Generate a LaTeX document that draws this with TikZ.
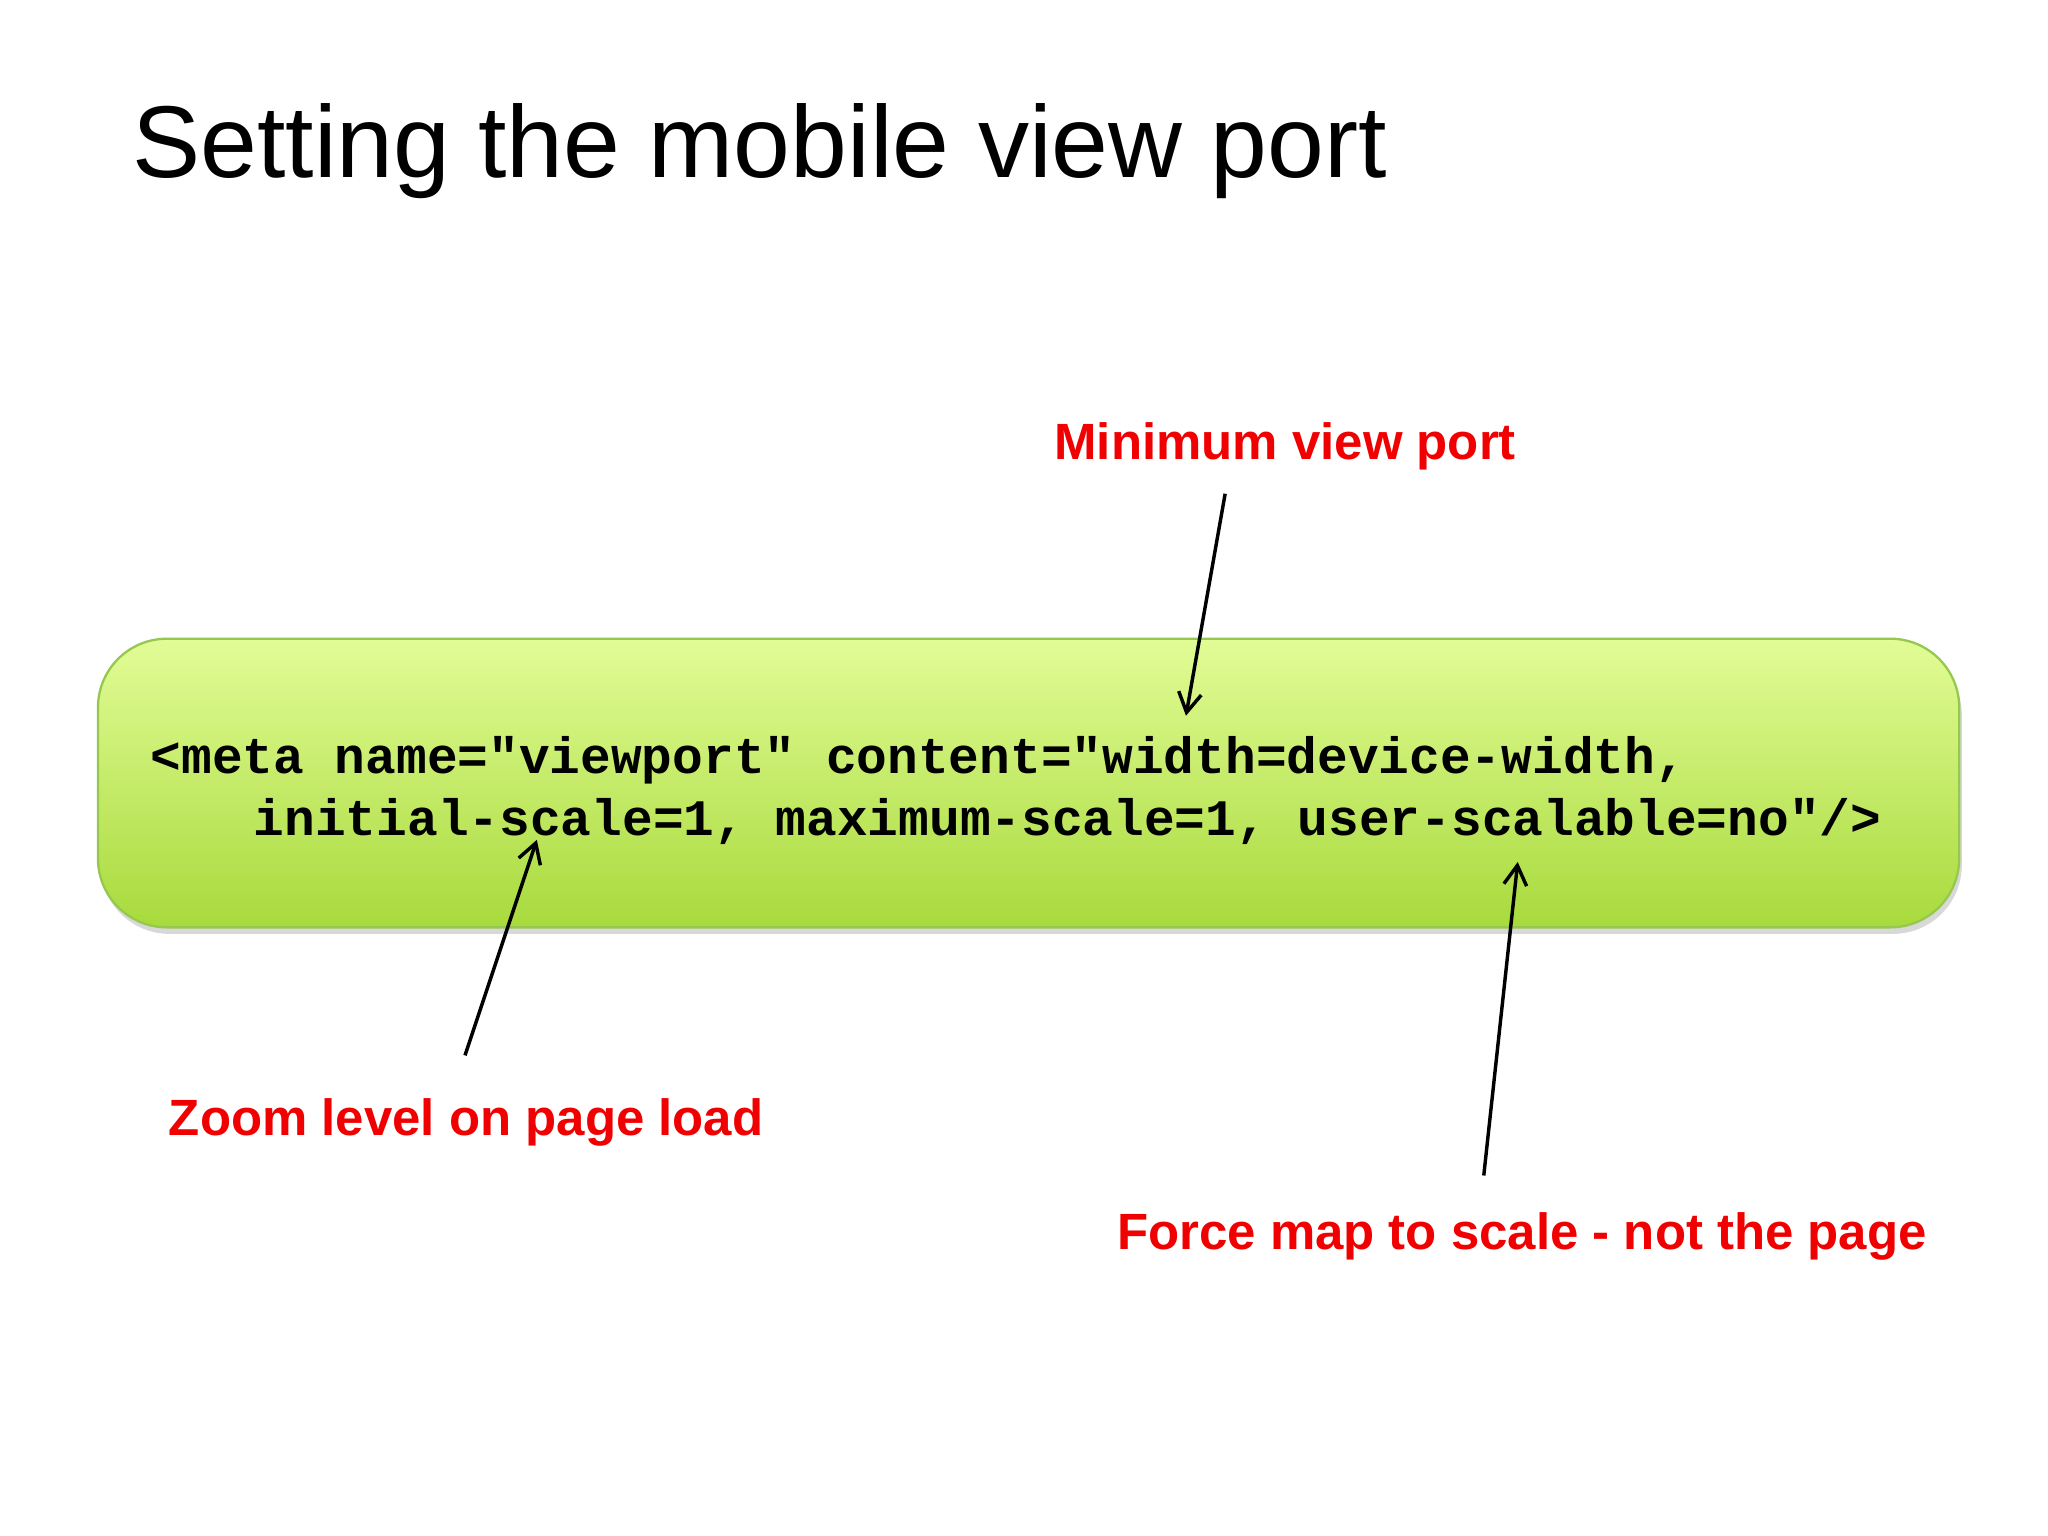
\documentclass[tikz,border=0pt]{standalone}
\usepackage{fontspec}
\setmainfont{Liberation Sans}
\newfontfamily\codefont{Liberation Mono}
\usetikzlibrary{arrows.meta,shadows}
\definecolor{lblred}{RGB}{240,0,0}
\definecolor{boxtop}{RGB}{226,252,150}
\definecolor{boxbot}{RGB}{168,218,60}
\definecolor{boxedge}{RGB}{150,200,80}
\tikzset{
 lbl/.style={text=lblred,font=\fontsize{22.2}{26}\selectfont\bfseries,anchor=west,inner sep=0},
 arr/.style={-{Straight Barb[length=3mm,width=3.5mm]},line width=1.5pt},
 code/.style={font=\codefont\bfseries\fontsize{22.3}{26}\selectfont,anchor=west,inner sep=0}
}
\begin{document}
\begin{tikzpicture}[x=0.02cm,y=-0.02cm]
\useasboundingbox[fill=white] (0,0) rectangle (1568,1176);
\node[anchor=west,inner sep=0,font=\fontsize{44.5}{52}\selectfont] (title) at (101,116) {Setting the mobile view port};
\fill[black!25,rounded corners=30,opacity=0.6] (77,495) rectangle (1502,715);
\shade[top color=boxtop,bottom color=boxbot,draw=boxedge,line width=1pt,rounded corners=30] (75,489) rectangle (1500,710);
\node[code] (c1) at (115,582) {<meta name="viewport" content="width=device-width,};
\node[code] (c2) at (194,629) {initial-scale=1, maximum-scale=1, user-scalable=no"/>};
\node[lbl] (l1) at (807,342) {Minimum view port};
\node[lbl] (l2) at (129,859) {Zoom level on page load};
\node[lbl] (l3) at (855,947) {Force map to scale - not the page};
\coordinate (a1s) at (938,378); \coordinate (a1e) at (908,548);
\coordinate (a2s) at (356,808); \coordinate (a2e) at (411,643);
\coordinate (a3s) at (1136,900); \coordinate (a3e) at (1162,660);
\draw[arr] (a1s) -- (a1e);
\draw[arr] (a2s) -- (a2e);
\draw[arr] (a3s) -- (a3e);
\end{tikzpicture}
\end{document}
